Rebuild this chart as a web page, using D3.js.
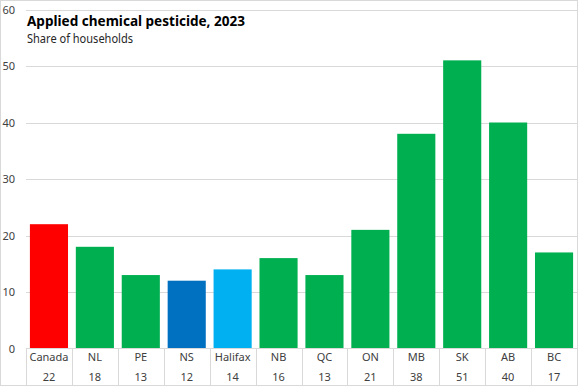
<!DOCTYPE html>
<html><head><meta charset="utf-8">
<script src="https://cdn.jsdelivr.net/npm/d3@7"></script>
<style>body{margin:0;background:#fff}svg{display:block;font-family:"Noto Sans",sans-serif}</style>
</head><body>
<script>
const categories = ["Canada","NL","PE","NS","Halifax","NB","QC","ON","MB","SK","AB","BC"];
const values = [22,18,13,12,14,16,13,21,38,51,40,17];
const barColors = ["#FF0000","#00B050","#00B050","#0070C0","#00B0F0","#00B050","#00B050","#00B050","#00B050","#00B050","#00B050","#00B050"];
const yTicks = [0,10,20,30,40,50,60];
const title = "Applied chemical pesticide, 2023";
const subtitle = "Share of households";

const W = 579, H = 387;
const svg = d3.select("body").append("svg").attr("width", W).attr("height", H);
const x = d3.scaleBand().domain(categories).range([26, 577]).paddingInner(0.17).paddingOuter(0.085);
const y = d3.scaleLinear().domain([0, 60]).range([348.5, 9.5]);

// frame
svg.append("rect").attr("x",0.5).attr("y",0.5).attr("width",577).attr("height",385)
  .attr("fill","none").attr("stroke","#d9d9d9");

// grid
svg.append("g").selectAll("line").data(yTicks.filter(d=>d>0)).join("line")
  .attr("x1",26).attr("x2",577).attr("y1",d=>Math.round(y(d))+0.5).attr("y2",d=>Math.round(y(d))+0.5)
  .attr("stroke","#d9d9d9").attr("stroke-width",1);

// y labels
svg.append("g").selectAll("text").data(yTicks).join("text")
  .attr("x",15).attr("y",d=>y(d)+4).attr("text-anchor","end")
  .attr("font-size",11).attr("fill","#404040").text(d=>d);

// title
svg.append("text").attr("x",27).attr("y",26).attr("font-size",15).attr("font-weight","bold").attr("fill","#000")
  .attr("textLength",218).attr("lengthAdjust","spacingAndGlyphs").text(title);
svg.append("text").attr("x",27).attr("y",43).attr("font-size",12).attr("fill","#262626")
  .attr("textLength",106).attr("lengthAdjust","spacingAndGlyphs").text(subtitle);

// bars
svg.append("g").selectAll("rect").data(categories).join("rect")
  .attr("x",d=>x(d)).attr("width",x.bandwidth())
  .attr("y",(d,i)=>y(values[i])).attr("height",(d,i)=>y(0)-y(values[i]))
  .attr("fill",(d,i)=>barColors[i]);

// axis line + table
svg.append("line").attr("x1",26).attr("x2",577).attr("y1",348.5).attr("y2",348.5).attr("stroke","#d9d9d9");
svg.append("g").selectAll("line").data(categories.concat(["_end"])).join("line")
  .attr("x1",(d,i)=>Math.round(26+i*(551/12))+0.5).attr("x2",(d,i)=>Math.round(26+i*(551/12))+0.5)
  .attr("y1",348).attr("y2",386).attr("stroke","#d9d9d9");

svg.append("g").selectAll("text").data(categories).join("text")
  .attr("x",d=>x(d)+x.bandwidth()/2).attr("y",361).attr("text-anchor","middle")
  .attr("font-size",11).attr("fill","#404040").text(d=>d);
svg.append("g").selectAll("text").data(values).join("text")
  .attr("x",(d,i)=>x(categories[i])+x.bandwidth()/2).attr("y",381).attr("text-anchor","middle")
  .attr("font-size",11).attr("fill","#404040").text(d=>d);
</script>
</body></html>
